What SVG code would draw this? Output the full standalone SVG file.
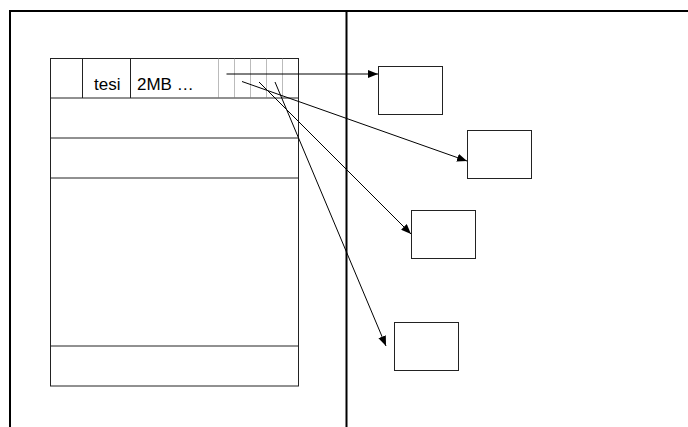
<svg xmlns="http://www.w3.org/2000/svg" width="688" height="427" viewBox="0 0 688 427">
  <style>
    .frame { stroke: #000; stroke-width: 2; fill: none; }
    .cell { stroke: #222; stroke-width: 1; fill: none; }
    .slot { stroke: #777; stroke-width: 1; stroke-dasharray: 1 1; fill: none; }
    .box { stroke: #222; stroke-width: 1; fill: #fff; }
    .link { stroke: #000; stroke-width: 1; fill: none; marker-end: url(#head); }
    .label { font-family: "Liberation Sans", Arial, sans-serif; font-size: 17px; fill: #000; }
  </style>
  <defs>
    <marker id="head" viewBox="0 0 10 8" refX="10" refY="4" markerWidth="10" markerHeight="8" markerUnits="userSpaceOnUse" orient="auto">
      <path d="M0,0 L10,4 L0,8 Z" fill="#000"/>
    </marker>
  </defs>
  <rect width="688" height="427" fill="#fff"/>

  <!-- page frame -->
  <g id="frame">
    <line class="frame" x1="9" y1="11" x2="688" y2="11"/>
    <line class="frame" x1="10" y1="10" x2="10" y2="427"/>
    <line class="frame" x1="346.5" y1="11" x2="346.5" y2="427"/>
  </g>

  <!-- table with header row -->
  <g id="table">
    <rect class="cell" x="50.5" y="58.5" width="248" height="327.5"/>
    <line class="cell" x1="50.5" y1="98" x2="298.5" y2="98"/>
    <line class="cell" x1="50.5" y1="138" x2="298.5" y2="138"/>
    <line class="cell" x1="50.5" y1="178" x2="298.5" y2="178"/>
    <line class="cell" x1="50.5" y1="346" x2="298.5" y2="346"/>
    <line class="cell" x1="82.5" y1="58.5" x2="82.5" y2="98"/>
    <line class="cell" x1="130.5" y1="58.5" x2="130.5" y2="98"/>
    <line class="slot" x1="218.5" y1="58.5" x2="218.5" y2="98"/>
    <line class="slot" x1="234.5" y1="58.5" x2="234.5" y2="98"/>
    <line class="slot" x1="250.5" y1="58.5" x2="250.5" y2="98"/>
    <line class="slot" x1="266.5" y1="58.5" x2="266.5" y2="98"/>
    <line class="slot" x1="282.5" y1="58.5" x2="282.5" y2="98"/>
    <text class="label" x="94" y="89.5">tesi</text>
    <text class="label" x="137" y="89.5">2MB …</text>
  </g>

  <!-- target blocks -->
  <g id="block1"><rect class="box" x="378.5" y="66.5" width="64" height="48"/></g>
  <g id="block2"><rect class="box" x="467.5" y="130.5" width="64" height="48"/></g>
  <g id="block3"><rect class="box" x="411.5" y="210.5" width="64" height="48"/></g>
  <g id="block4"><rect class="box" x="394.5" y="322.5" width="64" height="48"/></g>

  <!-- pointers from the header slots -->
  <g id="connectors">
    <line class="link" x1="226.5" y1="74" x2="378" y2="74"/>
    <line class="link" x1="242" y1="81.5" x2="467" y2="161"/>
    <line class="link" x1="259" y1="82" x2="411" y2="234"/>
    <line class="link" x1="275" y1="82" x2="386" y2="346"/>
  </g>
</svg>
